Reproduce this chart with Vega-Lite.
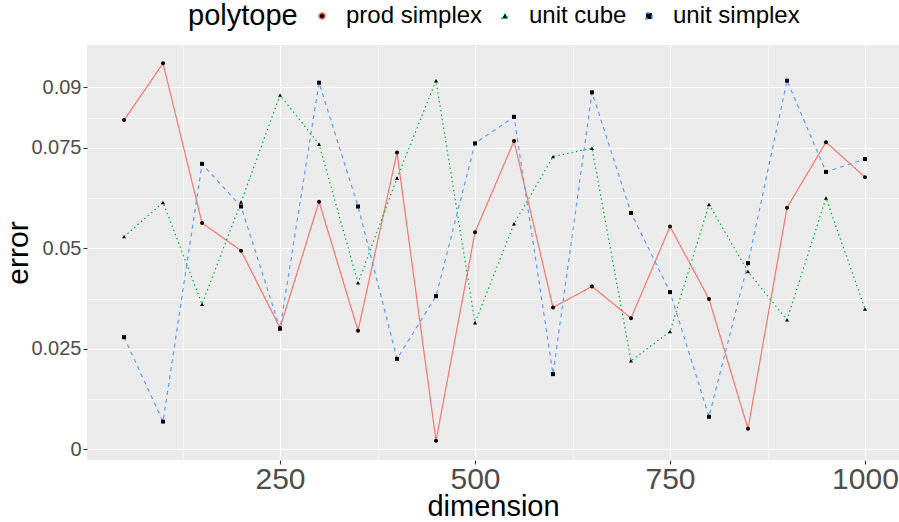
{
  "$schema": "https://vega.github.io/schema/vega-lite/v6.json",
  "width": 812,
  "height": 415,
  "autosize": "none",
  "padding": {"left": 87, "top": 45, "right": 0, "bottom": 62},
  "background": "white",
  "config": {
    "font": "Liberation Sans",
    "view": {"fill": "#EBEBEB", "stroke": null},
    "axis": {
      "domain": false,
      "tickColor": "#333333",
      "tickSize": 4,
      "tickWidth": 1.1,
      "labelColor": "#4D4D4D",
      "titleColor": "black",
      "titleFontWeight": "normal",
      "gridColor": "white",
      "labelFont": "Liberation Sans",
      "titleFont": "Liberation Sans"
    },
    "legend": {
      "labelFont": "Liberation Sans",
      "titleFont": "Liberation Sans"
    }
  },
  "datasets": {
    "errs": [
      {"dimension": 50, "polytope": "prod simplex", "error": 0.0819},
      {"dimension": 100, "polytope": "prod simplex", "error": 0.0960},
      {"dimension": 150, "polytope": "prod simplex", "error": 0.0563},
      {"dimension": 200, "polytope": "prod simplex", "error": 0.0494},
      {"dimension": 250, "polytope": "prod simplex", "error": 0.0302},
      {"dimension": 300, "polytope": "prod simplex", "error": 0.0616},
      {"dimension": 350, "polytope": "prod simplex", "error": 0.0295},
      {"dimension": 400, "polytope": "prod simplex", "error": 0.0738},
      {"dimension": 450, "polytope": "prod simplex", "error": 0.0021},
      {"dimension": 500, "polytope": "prod simplex", "error": 0.0540},
      {"dimension": 550, "polytope": "prod simplex", "error": 0.0767},
      {"dimension": 600, "polytope": "prod simplex", "error": 0.0353},
      {"dimension": 650, "polytope": "prod simplex", "error": 0.0405},
      {"dimension": 700, "polytope": "prod simplex", "error": 0.0326},
      {"dimension": 750, "polytope": "prod simplex", "error": 0.0554},
      {"dimension": 800, "polytope": "prod simplex", "error": 0.0374},
      {"dimension": 850, "polytope": "prod simplex", "error": 0.0051},
      {"dimension": 900, "polytope": "prod simplex", "error": 0.0601},
      {"dimension": 950, "polytope": "prod simplex", "error": 0.0764},
      {"dimension": 1000, "polytope": "prod simplex", "error": 0.0677},
      {"dimension": 50, "polytope": "unit cube", "error": 0.0529},
      {"dimension": 100, "polytope": "unit cube", "error": 0.0614},
      {"dimension": 150, "polytope": "unit cube", "error": 0.0361},
      {"dimension": 200, "polytope": "unit cube", "error": 0.0615},
      {"dimension": 250, "polytope": "unit cube", "error": 0.0881},
      {"dimension": 300, "polytope": "unit cube", "error": 0.0759},
      {"dimension": 350, "polytope": "unit cube", "error": 0.0414},
      {"dimension": 400, "polytope": "unit cube", "error": 0.0675},
      {"dimension": 450, "polytope": "unit cube", "error": 0.0917},
      {"dimension": 500, "polytope": "unit cube", "error": 0.0315},
      {"dimension": 550, "polytope": "unit cube", "error": 0.0561},
      {"dimension": 600, "polytope": "unit cube", "error": 0.0728},
      {"dimension": 650, "polytope": "unit cube", "error": 0.0749},
      {"dimension": 700, "polytope": "unit cube", "error": 0.0220},
      {"dimension": 750, "polytope": "unit cube", "error": 0.0293},
      {"dimension": 800, "polytope": "unit cube", "error": 0.0609},
      {"dimension": 850, "polytope": "unit cube", "error": 0.0442},
      {"dimension": 900, "polytope": "unit cube", "error": 0.0322},
      {"dimension": 950, "polytope": "unit cube", "error": 0.0625},
      {"dimension": 1000, "polytope": "unit cube", "error": 0.0349},
      {"dimension": 50, "polytope": "unit simplex", "error": 0.0279},
      {"dimension": 100, "polytope": "unit simplex", "error": 0.0069},
      {"dimension": 150, "polytope": "unit simplex", "error": 0.0710},
      {"dimension": 200, "polytope": "unit simplex", "error": 0.0604},
      {"dimension": 250, "polytope": "unit simplex", "error": 0.0300},
      {"dimension": 300, "polytope": "unit simplex", "error": 0.0912},
      {"dimension": 350, "polytope": "unit simplex", "error": 0.0604},
      {"dimension": 400, "polytope": "unit simplex", "error": 0.0225},
      {"dimension": 450, "polytope": "unit simplex", "error": 0.0381},
      {"dimension": 500, "polytope": "unit simplex", "error": 0.0761},
      {"dimension": 550, "polytope": "unit simplex", "error": 0.0827},
      {"dimension": 600, "polytope": "unit simplex", "error": 0.0187},
      {"dimension": 650, "polytope": "unit simplex", "error": 0.0888},
      {"dimension": 700, "polytope": "unit simplex", "error": 0.0588},
      {"dimension": 750, "polytope": "unit simplex", "error": 0.0391},
      {"dimension": 800, "polytope": "unit simplex", "error": 0.0081},
      {"dimension": 850, "polytope": "unit simplex", "error": 0.0463},
      {"dimension": 900, "polytope": "unit simplex", "error": 0.0917},
      {"dimension": 950, "polytope": "unit simplex", "error": 0.0690},
      {"dimension": 1000, "polytope": "unit simplex", "error": 0.0722}
    ]
  },
  "data": {"name": "errs"},
  "layer": [
    {
      "mark": {"type": "line", "strokeWidth": 1.2},
      "encoding": {
        "x": {
          "field": "dimension", "type": "quantitative",
          "scale": {"domain": [2.5, 1043.6], "nice": false, "zero": false},
          "axis": {"values": [250, 500, 750, 1000], "format": "d", "grid": true, "gridWidth": 1.1, "labelFontSize": 30, "labelPadding": 0, "title": "dimension", "titleFontSize": 29, "titleY": 55, "titleBaseline": "alphabetic"}
        },
        "y": {
          "field": "error", "type": "quantitative",
          "scale": {"domain": [-0.00266, 0.10057], "nice": false, "zero": false},
          "axis": {"values": [0, 0.025, 0.05, 0.075, 0.09], "format": ".3~f", "grid": true, "gridWidth": 1.1, "labelFontSize": 20, "labelPadding": 2, "title": "error", "titleFontSize": 30, "titleX": -60, "titleBaseline": "alphabetic", "titleAngle": -90}
        },
        "color": {
          "field": "polytope", "type": "nominal",
          "scale": {"domain": ["prod simplex", "unit cube", "unit simplex"], "range": ["#F8766D", "#00BA38", "#619CFF"]},
          "legend": {"orient": "none", "legendX": 101, "legendY": -41, "direction": "horizontal", "titleOrient": "left", "titleFontSize": 29, "titleFontWeight": "normal", "titleColor": "black", "labelFontSize": 24, "labelColor": "black", "columnPadding": 10, "symbolSize": 36, "labelOffset": 12, "titlePadding": 12}
        },
        "strokeDash": {
          "field": "polytope", "type": "nominal",
          "scale": {"domain": ["prod simplex", "unit cube", "unit simplex"], "range": [[1, 0], [1.5, 3], [4, 4]]}
        }
      }
    },
    {
      "mark": {"type": "point", "filled": true, "color": "black", "size": 16, "opacity": 1},
      "encoding": {
        "x": {
          "field": "dimension", "type": "quantitative",
          "axis": {"values": [125, 375, 625, 875], "grid": true, "gridWidth": 0.55, "labels": false, "ticks": false, "title": null, "orient": "top"}
        },
        "y": {
          "field": "error", "type": "quantitative",
          "axis": {"values": [0.0125, 0.0375, 0.0625, 0.0825], "grid": true, "gridWidth": 0.55, "labels": false, "ticks": false, "title": null, "orient": "right"}
        },
        "shape": {
          "field": "polytope", "type": "nominal",
          "scale": {"domain": ["prod simplex", "unit cube", "unit simplex"], "range": ["circle", "triangle-up", "square"]}
        }
      }
    }
  ],
  "resolve": {"axis": {"x": "independent", "y": "independent"}}
}
